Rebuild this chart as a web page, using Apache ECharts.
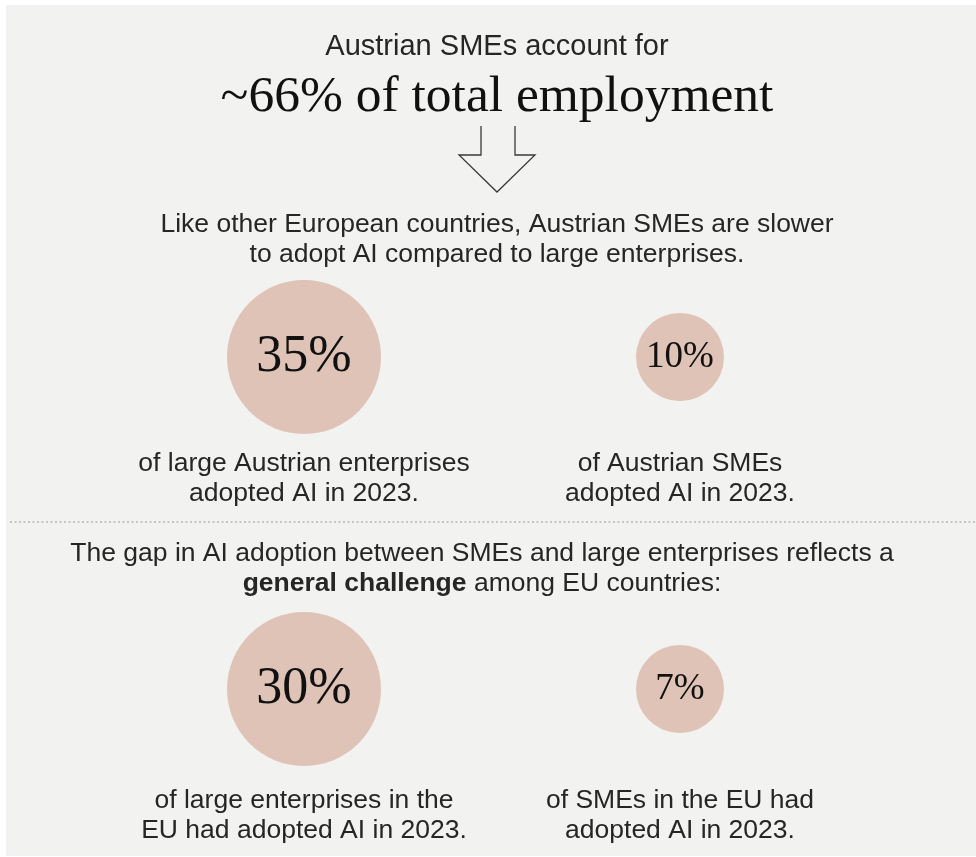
<!DOCTYPE html>
<html>
<head>
<meta charset="utf-8">
<title>AI adoption: SMEs vs large enterprises</title>
<script src="https://cdn.jsdelivr.net/npm/echarts@6/dist/echarts.min.js"></script>
<style>
  html, body { margin: 0; padding: 0; background: #ffffff; }
  #chart { width: 976px; height: 857px; }
</style>
</head>
<body>
<div id="chart"></div>
<script>
// Enterprise size groups (columns) and regions (rows)
const sizeGroups = ['Large enterprises', 'SMEs'];
const regions = ['Austria', 'EU'];

// Share of enterprises that adopted AI in 2023, in %
const largeAdoption = [35, 30];   // Austria, EU
const smeAdoption = [10, 7];      // Austria, EU

// Captions under each bubble, per region: [large, SMEs]
const captions = {
  Austria: [
    ['of large Austrian enterprises', 'adopted AI in 2023.'],
    ['of Austrian SMEs', 'adopted AI in 2023.']
  ],
  EU: [
    ['of large enterprises in the', 'EU had adopted AI in 2023.'],
    ['of SMEs in the EU had', 'adopted AI in 2023.']
  ]
};

const SANS = '"Liberation Sans", Arial, sans-serif';
const SERIF = '"Liberation Serif", "Times New Roman", serif';
const INK = '#262626';
const BUBBLE = '#dfc3b7';

// Bubble look per size group: big disc for large firms, small disc for SMEs
const bubbleSize = [154, 88];
const bubbleFont = [52, 37];

const seriesData = [];
regions.forEach((r, ri) => {
  [largeAdoption, smeAdoption].forEach((arr, gi) => {
    seriesData.push({
      value: [sizeGroups[gi], r, arr[ri]],
      symbolSize: bubbleSize[gi],
      label: { fontSize: bubbleFont[gi] }
    });
  });
});

const chart = echarts.init(document.getElementById('chart'), null, { renderer: 'canvas' });

function txt(text, x, y, size, family, color) {
  return {
    type: 'text',
    x: x,
    y: y,
    silent: true,
    style: {
      text: text,
      fill: color || INK,
      fontSize: size,
      fontFamily: family,
      textAlign: 'center',
      textVerticalAlign: 'middle'
    }
  };
}

// Column centres and caption rows
const colX = [304, 680];
const captionRows = { Austria: [463, 493], EU: [800, 830] };

const graphics = [
  { type: 'rect', z: -10, silent: true, shape: { x: 6, y: 5, width: 970, height: 851 }, style: { fill: '#f2f2f0' } },
  txt('Austrian SMEs account for', 497, 47, 29, SANS),
  txt('~66% of total employment', 497, 97, 51.5, SERIF, '#111111'),
  {
    type: 'polyline',
    silent: true,
    shape: { points: [[481, 126], [481, 155], [459, 155], [497, 192], [535, 155], [515, 155], [515, 126]] },
    style: { stroke: '#3a3a3a', lineWidth: 1.3, fill: null }
  },
  txt('Like other European countries, Austrian SMEs are slower', 497, 225, 26.5, SANS),
  txt('to adopt AI compared to large enterprises.', 497, 255, 26.5, SANS),
  {
    type: 'line',
    silent: true,
    shape: { x1: 10, y1: 522, x2: 976, y2: 522 },
    style: { stroke: '#c4c4c4', lineWidth: 2, lineDash: [2, 2.5] }
  },
  txt('The gap in AI adoption between SMEs and large enterprises reflects a', 482, 554, 26.5, SANS),
  {
    type: 'text',
    x: 482,
    y: 584,
    silent: true,
    style: {
      text: '{b|general challenge} among EU countries:',
      fill: INK,
      fontSize: 26.5,
      fontFamily: SANS,
      textAlign: 'center',
      textVerticalAlign: 'middle',
      rich: {
        b: { fontWeight: 'bold', fontSize: 26.5, fontFamily: SANS, fill: INK }
      }
    }
  }
];

regions.forEach(r => {
  captions[r].forEach((lines, gi) => {
    lines.forEach((line, li) => {
      graphics.push(txt(line, colX[gi], captionRows[r][li] + 1, 26.5, SANS));
    });
  });
});

chart.setOption({
  backgroundColor: '#ffffff',
  animation: false,
  grid: { left: 116, width: 752, top: 191, height: 664 },
  xAxis: {
    type: 'category',
    data: sizeGroups,
    show: false
  },
  yAxis: {
    type: 'category',
    data: regions,
    inverse: true,
    show: false
  },
  graphic: graphics,
  series: [{
    type: 'scatter',
    data: seriesData,
    itemStyle: { color: BUBBLE, opacity: 1 },
    label: {
      show: true,
      position: 'inside',
      color: '#111111',
      fontFamily: SERIF,
      formatter: p => p.value[2] + '%'
    },
    emphasis: { disabled: true }
  }]
});
</script>
</body>
</html>
